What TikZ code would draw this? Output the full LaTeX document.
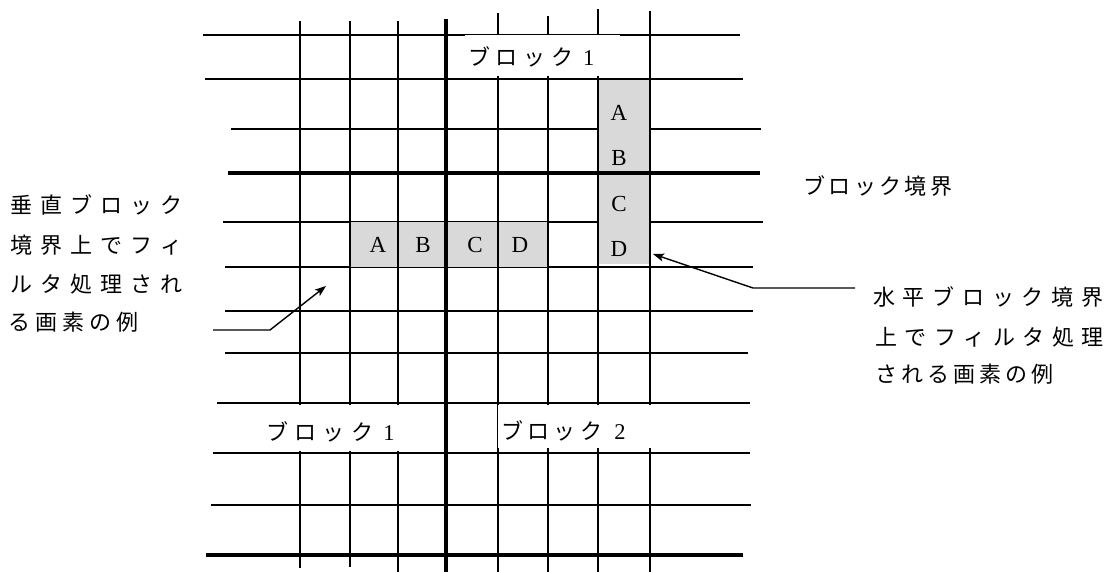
\documentclass[tikz,border=0pt]{standalone}
\usepackage{fontspec}
\setmainfont{Liberation Serif}
\newfontfamily\jp{Noto Sans CJK JP}
\usetikzlibrary{arrows.meta}
\newlength\jpitch
\def\spreadaux#1{\ifx#1\relax\else\makebox[\jpitch][l]{#1}\expandafter\spreadaux\fi}
\newcommand\spread[2]{\setlength\jpitch{#1}\spreadaux#2\relax}
\newcommand\numlabel[1]{{\rmfamily\fontsize{22.5}{24}\selectfont #1}}
\definecolor{cellgray}{RGB}{217,217,217}
\tikzset{
  gridline/.style={line width=1.3pt, black},
  thickline/.style={line width=4.5pt, black},
  jtext/.style={inner sep=0pt, anchor=west, font=\fontsize{22}{24}\selectfont\jp},
  letter/.style={inner sep=0pt, font=\fontsize{23}{26}\selectfont},
  leader/.style={line width=1.4pt, -{Stealth[length=11pt,width=8pt,inset=2.5pt]}}
}
\begin{document}
\begin{tikzpicture}[x=1pt,y=-1pt]
\useasboundingbox (0,0) rectangle (1106,572);
% thin horizontal lines
\foreach \y/\a/\b in {35/203/740, 79/205/743, 129/231/761, 222/223/763, 267/225/753,
                      311/225/753, 353/225/748, 403/217/750, 453/213/750, 505/211/751}
  \draw[gridline] (\a,\y) -- (\b,\y);
% gray cells
\fill[cellgray] (350,222) rectangle (548,267);
\fill[cellgray] (598,80) rectangle (649,264);
% thin vertical lines
\foreach \x/\a/\b in {300/21/568, 350/21/567, 398/21/572, 498/13/572,
                      548/16/572, 598/9/572, 650/11/572}
  \draw[gridline] (\x,\a) -- (\x,\b);
% block boundaries
\draw[line width=4pt] (446,19) -- (446,572);
\draw[thickline] (228,173) -- (760,173);
\draw[thickline] (206,555) -- (743,555);
% white label boxes
\fill[white] (465,35.4) rectangle (620,76);
\fill[white] (235,405) rectangle (440,451);
\fill[white] (498.2,405) rectangle (700,447.5);
% cell letters
\node[letter] (hA) at (378,245) {A};
\node[letter] (hB) at (423,245) {B};
\node[letter] (hC) at (475,245) {C};
\node[letter] (hD) at (520,245) {D};
\node[letter] (vA) at (619,113) {A};
\node[letter] (vB) at (619,158) {B};
\node[letter] (vC) at (619,204) {C};
\node[letter] (vD) at (619,249) {D};
% block labels
\node[jtext] (top1) at (468,57) {\spread{27.7pt}{ブロック}\hspace{4pt}\numlabel{1}};
\node[jtext] (bot1) at (266,432) {\spread{28.3pt}{ブロック}\hspace{4pt}\numlabel{1}};
\node[jtext] (bot2) at (501,431) {\spread{26.3pt}{ブロック}\hspace{8pt}\numlabel{2}};
\node[jtext] (bnd) at (803,186) {\spread{25.4pt}{ブロック境界}};
% left explanation
\node[jtext] (l1) at (10,205) {\spread{30pt}{垂直ブロック}};
\node[jtext] (l2) at (10,245) {\spread{30pt}{境界上でフィ}};
\node[jtext] (l3) at (10,284) {\spread{30pt}{ルタ処理され}};
\node[jtext] (l4) at (8,322) {\spread{27.2pt}{る画素の例}};
% right explanation
\node[jtext] (r1) at (873,297) {\spread{29.7pt}{水平ブロック境界}};
\node[jtext] (r2) at (875,337) {\spread{29.5pt}{上でフィルタ処理}};
\node[jtext] (r3) at (875,374) {\spread{26pt}{される画素の例}};
% leaders
\coordinate (vstart) at (213,330);
\coordinate (vbend) at (270,330);
\coordinate (vtip) at (326,286);
\draw[leader] (vstart) -- (vbend) -- (vtip);
\coordinate (hstart) at (855,288);
\coordinate (hbend) at (753,288);
\coordinate (htip) at (653,254);
\draw[leader] (hstart) -- (hbend) -- (htip);
\end{tikzpicture}
\end{document}
